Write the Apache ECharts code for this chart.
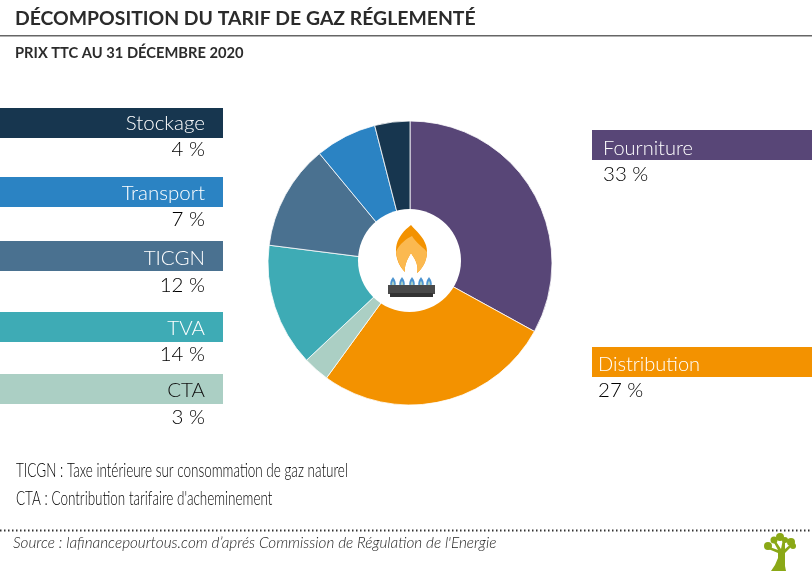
<!DOCTYPE html>
<html><head><meta charset="utf-8">
<style>html,body{margin:0;padding:0;background:#fff}#c{width:812px;height:572px}</style>
<script src="https://cdn.jsdelivr.net/npm/echarts@6/dist/echarts.min.js"></script>
</head><body><div id="c"></div>
<script>
const categories = ['Fourniture','Distribution','CTA','TVA','TICGN','Transport','Stockage'];
const values = [33,27,3,14,12,7,4];
const colors = ['#584677','#f39200','#abcfc4','#3eabb5','#4a7190','#2b83c3','#17364f'];
const title = 'DÉCOMPOSITION DU TARIF DE GAZ RÉGLEMENTÉ';
const subtitle = 'PRIX TTC AU 31 DÉCEMBRE 2020';
const notes = ['TICGN : Taxe intérieure sur consommation de gaz naturel',"CTA : Contribution tarifaire d'acheminement"];
const source = "Source : lafinancepourtous.com d’aprés Commission de Régulation de l'Energie";

const FONT = 'Lato, "Open Sans", sans-serif';
const val = n => values[categories.indexOf(n)] + ' %';
const col = n => colors[categories.indexOf(n)];
const leftBands = [['Stockage',108,'#fff',15,41.5],['Transport',177,'#fff',16,42.5],['TICGN',241,'#fff',17,44],['TVA',312,'#fff',16,42.5],['CTA',374,'#111',16,43]];
const rightBands = [['Fourniture',130,603,18.5,44],['Distribution',347,598,17.5,43]];
const g = [];
const txt = (x,y,t,size,fill,extra={})=>g.push({type:'text',x,y,z:10,style:Object.assign({text:t,font:`${size}px ${FONT}`,fill,textVerticalAlign:'middle'},extra)});
// sample a closed outline made of cubic segments: start point, then [c1x,c1y,c2x,c2y,x,y] or [x,y]
const outline = (start, segs) => {
  const pts=[start]; let p=start;
  segs.forEach(s=>{
    if(s.length===2){pts.push(s);p=s;return;}
    for(let k=1;k<=10;k++){const t=k/10,u=1-t;
      pts.push([u*u*u*p[0]+3*u*u*t*s[0]+3*u*t*t*s[2]+t*t*t*s[4],u*u*u*p[1]+3*u*u*t*s[1]+3*u*t*t*s[3]+t*t*t*s[5]]);}
    p=[s[4],s[5]];
  });
  return pts;
};
const poly=(z,fill,points)=>g.push({type:'polygon',z,shape:{points},style:{fill}});

txt(15,19,title,19.4,'#2b2b2b',{font:`bold 19.4px ${FONT}`});
txt(15,53,subtitle,14.7,'#2b2b2b',{font:`bold 14.7px ${FONT}`});
g.push({type:'rect',shape:{x:0,y:35,width:812,height:1.5},style:{fill:'#666'}});
leftBands.forEach(([n,y,c,a,b])=>{
  g.push({type:'rect',shape:{x:0,y,width:223,height:30},style:{fill:col(n)}});
  txt(205,y+a,n,20.5,c,{textAlign:'right',font:`300 20.5px ${FONT}`});
  txt(205,y+b,val(n),20.5,'#000',{textAlign:'right',font:`300 20.5px ${FONT}`});
});
rightBands.forEach(([n,y,x,a,b])=>{
  g.push({type:'rect',shape:{x:592,y,width:220,height:30},style:{fill:col(n)}});
  txt(x,y+a,n,20,'#fff',{font:`300 20px ${FONT}`});
  txt(x,y+b,val(n),20.5,'#000',{font:`300 20.5px ${FONT}`});
});
notes.forEach((t,i)=>g.push({type:'text',x:16,y:471+i*28,scaleX:0.71,z:10,style:{text:t,font:`300 19px ${FONT}`,fill:'#000',textVerticalAlign:'middle'}}));
g.push({type:'line',shape:{x1:0,y1:530.5,x2:812,y2:530.5},style:{stroke:'#333',lineWidth:2,lineDash:[1.5,2.5]}});
txt(13,543,source,15.3,'#222',{font:`italic 300 15.3px ${FONT}`});
// hub and flame icon
g.push({type:'circle',z:5,shape:{cx:409.5,cy:260.5,r:51.5},style:{fill:'#fff'}});
poly(6,'#f39200',outline([411,225],[[402,232,396,240,396,250],[396,260,400,267,405,272],[404,265,408,258,411,253],[414,258,419,264,417,273],[423,268,427,260,427,252],[427,240,418,233,411,225]]));
poly(7,'#fbb950',outline([412,236],[[404,240,398,246,396,252],[397,260,400,267,405,272],[404,265,408,258,411,253],[414,258,419,264,417,273],[423,268,427,260,427,252],[423,247,416,243,412,236]]));
[393,402,412,421,429].forEach(x=>{
  poly(6,'#4a93d0',outline([x,277],[[x-3,281,x-3,284,x-2.5,285],[x,289],[x+2.5,285],[x+3,284,x+3,281,x,277]]));
  poly(7,'#a9cfc4',outline([x,281],[[x-1.5,283,x-1.8,285,x,289],[x+1.8,285,x+1.5,283,x,281]]));
});
g.push({type:'rect',z:8,shape:{x:388,y:285,width:47,height:9},style:{fill:'#4a4a4a'}});
g.push({type:'rect',z:8,shape:{x:390,y:293,width:43,height:4},style:{fill:'#333'}});
// logo
const tree='#8aa816';
poly(6,tree,[[771,571],[775,565],[778,558],[778,553],[766,548],[767,546],[778,550],[773,541],[775,540],[781,549],[783,539],[785,539],[785,549],[792,543],[793,545],[785,553],[785,566],[786,571]]);
[[768,546,4],[774,540,3.5],[780,537,4],[785,540,3],[791,542,4],[793,546,3]].forEach(([cx,cy,r])=>g.push({type:'circle',z:6,shape:{cx,cy,r},style:{fill:tree}}));

const chart = echarts.init(document.getElementById('c'),null,{renderer:'canvas'});
chart.setOption({
  animation:false,
  backgroundColor:'#fff',
  graphic:{elements:g},
  series:[{type:'pie',center:[410,263],radius:[0,142],startAngle:90,clockwise:true,silent:true,
    label:{show:false},labelLine:{show:false},
    itemStyle:{borderColor:'#fff',borderWidth:0.8},
    data:categories.map((name,i)=>({name,value:values[i],itemStyle:{color:colors[i]}}))}]
});
</script></body></html>
